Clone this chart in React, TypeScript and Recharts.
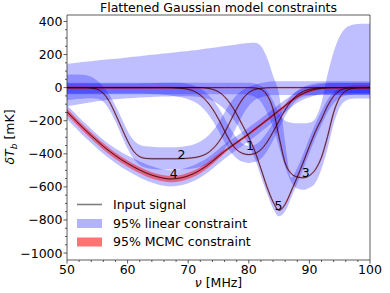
import { ComposedChart, Area, Line, XAxis, YAxis, ReferenceArea, ReferenceDot } from 'recharts';

// frequency grid (MHz)
const nu = [
  50, 51, 52, 53, 54, 55, 56, 57, 58, 59,
  60, 61, 62, 63, 64, 65, 66, 67, 68, 69,
  70, 71, 72, 73, 74, 75, 76, 77, 78, 79,
  80, 81, 82, 83, 84, 85, 86, 87, 88, 89,
  90, 91, 92, 93, 94, 95, 96, 97, 98, 99, 100,
];

// input signals (mK)
const sig1 = [
  0, 0, 0, 0, 0, 0, 0, 0, 0, 0,
  0, 0, 0, 0, 0, 0, 0, 0, -2, -5,
  -10, -22, -45, -80, -128, -190, -262, -330, -375, -398,
  -405, -398, -375, -330, -268, -200, -135, -82, -45, -22,
  -10, -4, -1, 0, 0, 0, 0, 0, 0, 0, 0,
];
const sig2 = [
  0, 0, 0, 0, -3, -10, -35, -85, -160, -242,
  -322, -385, -417, -428, -430, -430, -430, -430, -430, -429,
  -427, -423, -415, -400, -372, -330, -272, -200, -128, -68,
  -30, -11, -4, -1, 0, 0, 0, 0, 0, 0,
  0, 0, 0, 0, 0, 0, 0, 0, 0, 0, 0,
];
const sig3 = [
  0, 0, 0, 0, 0, 0, 0, 0, 0, 0,
  0, 0, 0, 0, 0, 0, 0, 0, 0, 0,
  0, 0, 0, 0, 0, 0, 0, 0, 0, 0,
  0, -2, -10, -45, -130, -300, -455, -520, -540, -545,
  -532, -495, -420, -295, -150, -60, -20, -6, -1, 0, 0,
];
const sig4 = [
  -146, -183, -220, -256, -290, -323, -355, -384, -411, -436,
  -458, -479, -498, -515, -529, -540, -548, -552, -550, -544,
  -533, -518, -498, -474, -446, -415, -385, -358, -332, -306,
  -280, -252, -224, -196, -167, -138, -109, -80, -55, -35,
  -20, -10, -4, -1, 0, 0, 0, 0, 0, 0, 0,
];
const sig5 = [
  0, 0, 0, 0, 0, 0, 0, 0, 0, 0,
  0, 0, 0, 0, 0, 0, 0, 0, 0, 0,
  0, 0, 0, -3, -10, -25, -55, -100, -160, -230,
  -300, -385, -490, -600, -690, -742, -705, -625, -540, -450,
  -355, -265, -190, -110, -52, -18, -5, -1, 0, 0, 0,
];

// 95% linear constraints (lower / upper)
const lin1Lo = [
  -35, -35, -35, -35, -35, -35, -35, -35, -35, -35,
  -35, -35, -36, -37, -38, -40, -43, -47, -53, -60,
  -70, -86, -110, -148, -198, -260, -328, -388, -428, -448,
  -455, -450, -430, -385, -320, -245, -172, -112, -74, -55,
  -48, -44, -42, -42, -42, -42, -42, -42, -42, -42, -42,
];
const lin1Hi = [
  25, 25, 25, 25, 25, 25, 25, 25, 25, 25,
  25, 25, 25, 26, 27, 28, 29, 30, 30, 28,
  22, 12, -5, -32, -70, -122, -185, -250, -305, -340,
  -352, -345, -318, -272, -215, -155, -100, -52, -18, 5,
  18, 25, 30, 30, 30, 30, 30, 30, 30, 30, 30,
];
const lin2Lo = [
  -75, -72, -68, -65, -64, -68, -85, -135, -205, -290,
  -370, -430, -468, -485, -492, -495, -495, -495, -495, -494,
  -492, -488, -480, -468, -450, -420, -375, -310, -235, -165,
  -110, -75, -58, -50, -45, -45, -45, -45, -45, -45,
  -45, -45, -45, -45, -45, -45, -45, -45, -45, -45, -45,
];
const lin2Hi = [
  78, 80, 80, 76, 65, 42, 5, -45, -110, -185,
  -262, -318, -345, -355, -358, -360, -360, -360, -360, -358,
  -352, -342, -325, -300, -262, -212, -150, -90, -45, -15,
  5, 18, 28, 34, 38, 38, 38, 38, 38, 38,
  38, 38, 38, 38, 38, 38, 38, 38, 38, 38, 38,
];
const lin3Lo = [
  -40, -40, -40, -40, -40, -40, -40, -40, -40, -40,
  -40, -40, -40, -40, -40, -40, -40, -40, -40, -40,
  -40, -40, -40, -40, -40, -40, -40, -40, -40, -40,
  -45, -55, -85, -150, -240, -360, -480, -570, -610, -618,
  -605, -575, -490, -370, -220, -120, -80, -68, -65, -65, -65,
];
const lin3Hi = [
  30, 30, 30, 30, 30, 30, 30, 30, 30, 30,
  30, 30, 30, 30, 30, 30, 30, 30, 30, 30,
  30, 30, 30, 30, 30, 30, 30, 30, 30, 30,
  30, 25, 10, -20, -80, -160, -200, -212, -216, -216,
  -212, -185, -90, 80, 215, 310, 360, 378, 384, 386, 386,
];
const lin4Lo = [
  -190, -228, -265, -301, -335, -368, -400, -429, -456, -481,
  -503, -524, -543, -560, -574, -585, -593, -597, -595, -589,
  -578, -563, -543, -519, -491, -460, -430, -403, -376, -350,
  -323, -295, -266, -238, -208, -178, -148, -118, -92, -72,
  -58, -48, -40, -35, -32, -32, -32, -32, -32, -32, -32,
];
const lin4Hi = [
  -105, -143, -180, -216, -250, -283, -315, -344, -368, -390,
  -410, -428, -446, -462, -476, -487, -495, -500, -498, -492,
  -482, -468, -450, -428, -402, -372, -343, -317, -292, -267,
  -241, -214, -186, -158, -130, -101, -73, -46, -22, -4,
  8, 16, 22, 26, 28, 28, 28, 28, 28, 28, 28,
];
const lin5Lo = [
  -112, -106, -100, -95, -88, -83, -78, -74, -70, -67,
  -64, -62, -60, -58, -56, -55, -54, -53, -52, -52,
  -52, -54, -58, -66, -80, -100, -130, -170, -220, -282,
  -350, -430, -535, -640, -730, -778, -748, -665, -580, -490,
  -395, -305, -225, -150, -95, -62, -48, -42, -40, -40, -40,
];
const lin5Hi = [
  145, 148, 152, 156, 160, 164, 168, 171, 175, 178,
  182, 186, 190, 194, 198, 202, 206, 210, 214, 218,
  222, 226, 231, 236, 241, 246, 251, 256, 261, 266,
  270, 272, 252, 182, 72, -40, -330, -545, -485, -400,
  -305, -218, -142, -72, -28, -5, 6, 12, 14, 15, 15,
];

// 95% MCMC constraint of signal 4
const mcmc4Lo = [
  -166, -203, -240, -276, -310, -343, -375, -404, -431, -456,
  -478, -499, -518, -535, -549, -560, -568, -572, -570, -564,
  -553, -538, -517, -492, -463, -430, -396, -367, -341, -315,
  -289, -261, -233, -205, -176, -147, -118, -89, -64, -44,
  -28, -17, -10, -6, -4, -4, -4, -4, -4, -4, -4,
];
const mcmc4Hi = [
  -128, -165, -202, -238, -272, -305, -337, -366, -393, -418,
  -440, -461, -480, -497, -511, -522, -530, -534, -532, -526,
  -515, -500, -481, -457, -430, -400, -374, -348, -323, -297,
  -271, -243, -215, -187, -158, -129, -100, -71, -46, -26,
  -12, -3, 2, 4, 4, 4, 4, 4, 4, 4, 4,
];

// curve number labels
const labelText = ['1', '2', '3', '4', '5'];
const labelNu = [80.2, 68.9, 89.4, 67.6, 84.9];
const labelT = [-352, -405, -515, -520, -715];

const xTicks = [50, 52, 54, 56, 58, 60, 62, 64, 66, 68, 70, 72, 74, 76, 78, 80, 82, 84, 86, 88, 90, 92, 94, 96, 98, 100];
const xMajor = [50, 60, 70, 80, 90, 100];
const yTicks = [
  400, 350, 300, 250, 200, 150, 100, 50, 0, -50, -100, -150, -200, -250, -300, -350, -400,
  -450, -500, -550, -600, -650, -700, -750, -800, -850, -900, -950, -1000,
];
const yMajor = [400, 200, 0, -200, -400, -600, -800, -1000];

const data = nu.map((v, i) => ({
  nu: v,
  s1: sig1[i],
  s2: sig2[i],
  s3: sig3[i],
  s4: sig4[i],
  s5: sig5[i],
  l1: [lin1Lo[i], lin1Hi[i]],
  l2: [lin2Lo[i], lin2Hi[i]],
  l3: [lin3Lo[i], lin3Hi[i]],
  l4: [lin4Lo[i], lin4Hi[i]],
  l5: [lin5Lo[i], lin5Hi[i]],
  m4: [mcmc4Lo[i], mcmc4Hi[i]],
}));

const FONT = 'DejaVu Sans';
const minus = (v: number) => String(v).replace('-', '\u2212');

const YTick = (props: any) => {
  const { x, y, payload } = props;
  const major = yMajor.includes(payload.value);
  return (
    <g>
      <line x1={x - (major ? 3.5 : 2)} x2={x} y1={y} y2={y} stroke="#333" strokeWidth={0.8} />
      {major && (
        <text x={x - 4.5} y={y} dy="0.36em" textAnchor="end" fontSize={12.5} fontFamily={FONT} fill="#000">
          {minus(payload.value)}
        </text>
      )}
    </g>
  );
};

const XTick = (props: any) => {
  const { x, y, payload } = props;
  const major = xMajor.includes(payload.value);
  return (
    <g>
      <line x1={x} x2={x} y1={y} y2={y + (major ? 3.5 : 2)} stroke="#333" strokeWidth={0.8} />
      {major && (
        <text x={x} y={y + 14} textAnchor="middle" fontSize={12.5} fontFamily={FONT} fill="#000">
          {payload.value}
        </text>
      )}
    </g>
  );
};

const bands = ['l5', 'l3', 'l1', 'l2', 'l4'];
const signals = ['s5', 's3', 's1', 's2', 's4'];

export default function App() {
  return (
    <div style={{ position: 'absolute', left: 0, top: 0, width: 390, height: 293, background: '#fff' }}>
      <ComposedChart width={390} height={293} data={data} margin={{ top: 15, right: 20, bottom: 0, left: 0 }}>
        <XAxis
          dataKey="nu"
          type="number"
          domain={[50, 100]}
          ticks={xTicks}
          interval={0}
          tick={<XTick />}
          tickLine={false}
          tickSize={0}
          tickMargin={0}
          axisLine={false}
          height={33}
          allowDataOverflow
        />
        <YAxis
          type="number"
          domain={[-1042, 439]}
          ticks={yTicks}
          interval={0}
          tick={<YTick />}
          tickLine={false}
          tickSize={0}
          tickMargin={0}
          axisLine={false}
          width={67}
          allowDataOverflow
        />
        {bands.map((k) => (
          <Area
            key={k}
            dataKey={k}
            type="monotone"
            stroke="none"
            fill="#0000ff"
            fillOpacity={0.25}
            dot={false}
            activeDot={false}
            isAnimationActive={false}
          />
        ))}
        <Area
          dataKey="m4"
          type="monotone"
          stroke="none"
          fill="#ff0000"
          fillOpacity={0.45}
          dot={false}
          activeDot={false}
          isAnimationActive={false}
        />
        {signals.map((k) => (
          <Line
            key={'r' + k}
            dataKey={k}
            type="monotone"
            stroke="#ff0000"
            strokeOpacity={0.3}
            strokeWidth={1.8}
            dot={false}
            activeDot={false}
            isAnimationActive={false}
          />
        ))}
        {signals.map((k) => (
          <Line
            key={k}
            dataKey={k}
            type="monotone"
            stroke="#000"
            strokeOpacity={0.75}
            strokeWidth={0.9}
            dot={false}
            activeDot={false}
            isAnimationActive={false}
          />
        ))}
        {labelText.map((t, i) => (
          <ReferenceDot
            key={t}
            x={labelNu[i]}
            y={labelT[i]}
            r={0}
            fill="none"
            stroke="none"
            label={{ value: t, position: 'center', fontSize: 12.5, fontFamily: FONT, fill: '#000' }}
          />
        ))}
        <ReferenceArea x1={50} x2={100} y1={-1042} y2={439} fill="none" stroke="#333" strokeWidth={0.8} />
      </ComposedChart>
      <svg width={390} height={293} style={{ position: 'absolute', left: 0, top: 0, pointerEvents: 'none' }}>
        <text x={218.5} y={12} textAnchor="middle" fontSize={12.5} fontFamily={FONT} fill="#000">
          Flattened Gaussian model constraints
        </text>
        <text x={218.5} y={287} textAnchor="middle" fontSize={12.5} fontFamily={FONT} fill="#000">
          <tspan fontStyle="italic">ν</tspan> [MHz]
        </text>
        <text transform="rotate(-90 14 137)" x={14} y={137} textAnchor="middle" fontSize={12.5} fontFamily={FONT} fill="#000">
          <tspan fontStyle="italic">δT</tspan>
          <tspan fontStyle="italic" fontSize={9} dy={3}>b</tspan>
          <tspan dy={-3}> [mK]</tspan>
        </text>
        <line x1={77} x2={102} y1={204.5} y2={204.5} stroke="#000" strokeOpacity={0.5} strokeWidth={1.6} />
        <text x={113} y={208.5} fontSize={12.5} fontFamily={FONT} fill="#000">Input signal</text>
        <rect x={77} y={219} width={25} height={9} fill="#0000ff" fillOpacity={0.3} />
        <text x={113} y={227.5} fontSize={12.5} fontFamily={FONT} fill="#000">95% linear constraint</text>
        <rect x={77} y={237.5} width={25} height={9} fill="#ff0000" fillOpacity={0.55} />
        <text x={113} y={246} fontSize={12.5} fontFamily={FONT} fill="#000">95% MCMC constraint</text>
      </svg>
    </div>
  );
}
